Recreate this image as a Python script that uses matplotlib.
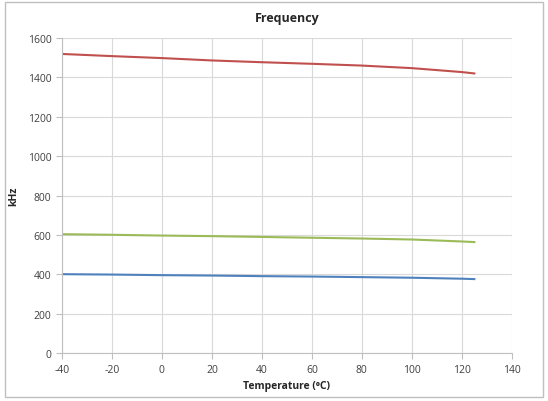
import matplotlib
matplotlib.use("Agg")
import matplotlib.pyplot as plt
from matplotlib.patches import Rectangle

temps = [-40, -20, 0, 20, 40, 60, 80, 100, 120, 125]
red_khz = [1519, 1508, 1498, 1486, 1477, 1469, 1460, 1447, 1427, 1420]
green_khz = [604, 601, 597, 594, 590, 586, 582, 577, 567, 564]
blue_khz = [401, 399, 396, 394, 391, 389, 386, 383, 378, 376]
xticks = [-40, -20, 0, 20, 40, 60, 80, 100, 120, 140]
yticks = [0, 200, 400, 600, 800, 1000, 1200, 1400, 1600]

plt.rcParams['font.family'] = ['Open Sans', 'DejaVu Sans']
plt.rcParams['axes.unicode_minus'] = False

fig = plt.figure(figsize=(5.48, 4.02), dpi=100)
ax = fig.add_axes([0.113, 0.119, 0.821, 0.784])

ax.plot(temps, red_khz, color='#C0504D', lw=1.5)
ax.plot(temps, green_khz, color='#9BBB59', lw=1.5)
ax.plot(temps, blue_khz, color='#4F81BD', lw=1.5)

ax.set_xlim(-40, 140)
ax.set_ylim(0, 1600)
ax.set_xticks(xticks)
ax.set_yticks(yticks)
ax.grid(True, color='#D9D9D9', lw=0.8)
ax.set_axisbelow(True)
for s in ['top', 'right']:
    ax.spines[s].set_visible(False)
for s in ['left', 'bottom']:
    ax.spines[s].set_color('#BFBFBF')
    ax.spines[s].set_linewidth(0.8)
ax.tick_params(axis='both', colors='#BFBFBF', labelcolor='#404040', labelsize=7.5, length=4, width=0.8)

ax.set_title('Frequency', fontsize=9, fontweight='bold', color='#262626', pad=12)
ax.set_xlabel('Temperature (\u2070C)', fontsize=7.5, fontweight='bold', color='#262626', labelpad=4)
ax.set_ylabel('kHz', fontsize=7.5, fontweight='bold', color='#262626', labelpad=6)

fig.patches.append(Rectangle((0.009, 0.01), 0.982, 0.982, transform=fig.transFigure,
                             fill=False, edgecolor='#BFBFBF', lw=1))

fig.savefig('out.png', dpi=100)
